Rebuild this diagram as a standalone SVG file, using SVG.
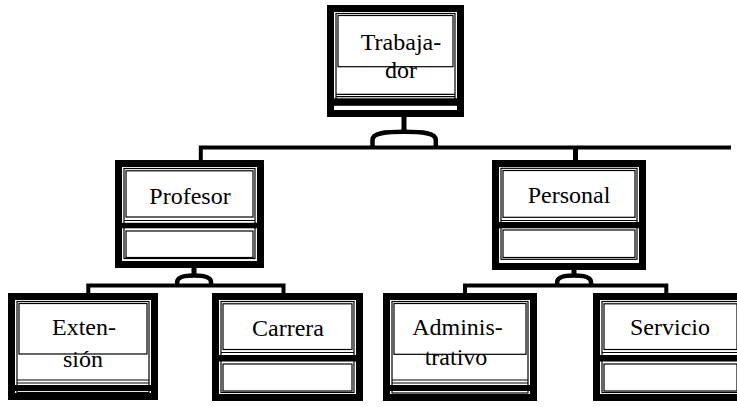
<svg xmlns="http://www.w3.org/2000/svg" width="737" height="407" viewBox="0 0 737 407">
  <style>
    .frame { fill: #fff; stroke: #000; stroke-width: 7; }
    .thin { fill: none; stroke: #000; stroke-width: 1.2; }
    .band { fill: #000; }
    .label { font-family: "Liberation Serif", "Times New Roman", serif; font-size: 24px; fill: #000; text-anchor: middle; }
    .bus { fill: none; stroke: #000; stroke-width: 4; stroke-linejoin: miter; }
    .stem { fill: none; stroke: #000; stroke-width: 5; }
    .dome { fill: none; stroke: #000; stroke-width: 4.5; }
  </style>

  <!-- connectors -->
  <g id="connectors">
    <path class="bus" d="M200.8,162 V147.5 H731"/>
    <path class="stem" d="M575.5,147.5 V162"/>
    <path class="stem" d="M404,115 V132"/>
    <path class="dome" d="M372.5,148 V140 C372.5,133 385,131.8 404,131.8 C423,131.8 435.8,133 435.8,140 V148"/>

    <path class="stem" d="M194,266 V276"/>
    <path class="dome" d="M177.2,287 V282 C177.2,277 184,275.5 194,275.5 C204,275.5 211,277 211,282 V287"/>
    <path class="bus" d="M88.3,294 V285.5 H283.5 V294"/>

    <path class="stem" d="M574,266 V276"/>
    <path class="dome" d="M557.2,287 V282 C557.2,277 564,275.5 574,275.5 C584,275.5 591,277 591,282 V287"/>
    <path class="bus" d="M465,294 V285.5 H666.3 V294"/>
  </g>

  <!-- Trabajador -->
  <g id="trabajador">
    <rect class="frame" x="330.5" y="8.5" width="130" height="105"/>
    <rect class="thin" x="336" y="13.5" width="119" height="89"/>
    <text class="label" x="401" y="50">Trabaja-</text>
    <text class="label" x="401" y="78">dor</text>
    <rect class="thin" x="338" y="15.5" width="115" height="51.2"/>
    <line class="thin" x1="336" y1="94.3" x2="455" y2="94.3"/>
    <line class="thin" x1="336" y1="96.7" x2="455" y2="96.7"/>
    <rect class="band" x="327" y="98.3" width="137" height="7.5"/>
  </g>

  <!-- Profesor -->
  <g id="profesor">
    <rect class="frame" x="118.5" y="163.5" width="142" height="101"/>
    <rect class="thin" x="124" y="168.5" width="131" height="90"/>
    <rect class="thin" x="126" y="170.8" width="127" height="46.2"/>
    <line class="thin" x1="124" y1="220.5" x2="255" y2="220.5"/>
    <rect class="band" x="115" y="222.8" width="149" height="5.5"/>
    <rect class="thin" x="126" y="231" width="127" height="26.5"/>
    <text class="label" x="190" y="204">Profesor</text>
  </g>

  <!-- Personal -->
  <g id="personal">
    <rect class="frame" x="495.5" y="163.5" width="147" height="103"/>
    <rect class="thin" x="501" y="168.3" width="136" height="91"/>
    <rect class="thin" x="503" y="170.5" width="132" height="46.8"/>
    <line class="thin" x1="501" y1="220.5" x2="637" y2="220.5"/>
    <rect class="band" x="492" y="222" width="154" height="6.3"/>
    <rect class="thin" x="503" y="230" width="132" height="27.5"/>
    <text class="label" x="569" y="203">Personal</text>
  </g>

  <!-- Extensión -->
  <g id="extension">
    <rect class="frame" x="11.5" y="296.5" width="143" height="100"/>
    <rect class="thin" x="17" y="301.5" width="132" height="91"/>
    <text class="label" x="84" y="335">Exten-</text>
    <text class="label" x="83" y="366.5">sión</text>
    <rect class="thin" x="19" y="303.5" width="128" height="50.5"/>
    <line class="thin" x1="17" y1="380" x2="149" y2="380"/>
    <line class="thin" x1="17" y1="383" x2="149" y2="383"/>
    <rect class="band" x="8" y="385" width="150" height="6"/>
  </g>

  <!-- Carrera -->
  <g id="carrera">
    <rect class="frame" x="215.5" y="296.5" width="144" height="101"/>
    <rect class="thin" x="221" y="301.5" width="133" height="91"/>
    <rect class="thin" x="223" y="303.8" width="129" height="45.7"/>
    <line class="thin" x1="221" y1="352.5" x2="354" y2="352.5"/>
    <rect class="band" x="212" y="355" width="151" height="6.5"/>
    <rect class="thin" x="223" y="364" width="129" height="27"/>
    <text class="label" x="288" y="336">Carrera</text>
  </g>

  <!-- Administrativo -->
  <g id="administrativo">
    <rect class="frame" x="386.5" y="296.5" width="147" height="101"/>
    <rect class="thin" x="392" y="301.5" width="136" height="91.5"/>
    <text class="label" x="457.5" y="335">Adminis-</text>
    <text class="label" x="456" y="365">trativo</text>
    <rect class="thin" x="394" y="303.5" width="132" height="50.8"/>
    <line class="thin" x1="392" y1="380" x2="528" y2="380"/>
    <line class="thin" x1="392" y1="383" x2="528" y2="383"/>
    <rect class="band" x="383" y="385" width="154" height="6"/>
  </g>

  <!-- Servicio -->
  <g id="servicio">
    <rect class="frame" x="596.5" y="296.5" width="148" height="101"/>
    <rect class="thin" x="602" y="301.5" width="137" height="91"/>
    <rect class="thin" x="604" y="303.8" width="133" height="45.7"/>
    <line class="thin" x1="602" y1="352.5" x2="739" y2="352.5"/>
    <rect class="band" x="593" y="355" width="152" height="6.5"/>
    <rect class="thin" x="604" y="364" width="133" height="27"/>
    <text class="label" x="670" y="335">Servicio</text>
  </g>
</svg>
